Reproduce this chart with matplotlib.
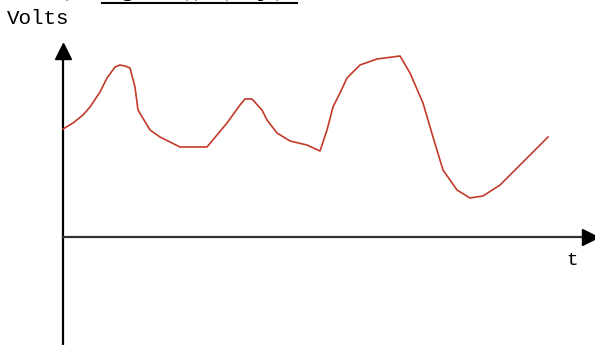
import matplotlib
matplotlib.use("Agg")
import matplotlib.pyplot as plt

# signal trace (t in px from origin, volts in px above t axis)
t_vals = [0, 10, 20, 27, 37, 44, 52, 57, 62, 67, 72, 75, 87, 97, 117, 144,
          164, 177, 182, 189, 199, 204, 214, 227, 244, 257, 264, 270, 277,
          284, 297, 314, 337, 347, 360, 370, 380, 394, 407, 420, 437, 454,
          470, 485]
volts = [108, 114, 122, 130, 145, 159, 170, 172, 171, 169, 150, 127, 107,
         100, 90, 90, 114, 132, 138, 138, 127, 117, 104, 96, 92, 86, 107,
         130, 144, 159, 172, 178, 181, 164, 134, 100, 67, 47, 39, 41, 52,
         69, 85, 100]

y_label = "Volts"
x_label = "t"

fig = plt.figure(figsize=(5.95, 3.45), dpi=100)
ax = fig.add_axes([0, 0, 1, 1])
ax.set_xlim(-63, 532)
ax.set_ylim(-108, 237)
ax.axis("off")

# axes drawn by hand with arrowheads
ax.plot([0, 0], [-108, 185], color="black", lw=1.6)
ax.plot([0, 528], [0, 0], color="#333333", lw=1.6)
ax.plot(0, 186, marker="^", color="black", ms=11, mec="black")
ax.plot(527, 0, marker=">", color="black", ms=11, mec="black", clip_on=False)

ax.plot(t_vals, volts, color="#c43a2a", lw=1.2)

ax.text(-56, 209, y_label, family="Liberation Mono", fontsize=15,
        ha="left", va="bottom")
ax.text(509, -15, x_label, family="Liberation Mono", fontsize=14,
        ha="center", va="top")

# header text, cut off at the top edge of the picture
fig.text(55 / 595, 1 + 4 / 345, "b)", family="Liberation Serif",
         fontsize=17, ha="left", va="baseline")
fig.text(102 / 595, 1 + 4 / 345, "Signal x(t)   (1,5pt)",
         family="Liberation Serif", fontsize=17, ha="left", va="baseline")
ax.plot([39, 234], [234, 234], color="black", lw=1.5, clip_on=False)

fig.savefig("out.png", dpi=100)
